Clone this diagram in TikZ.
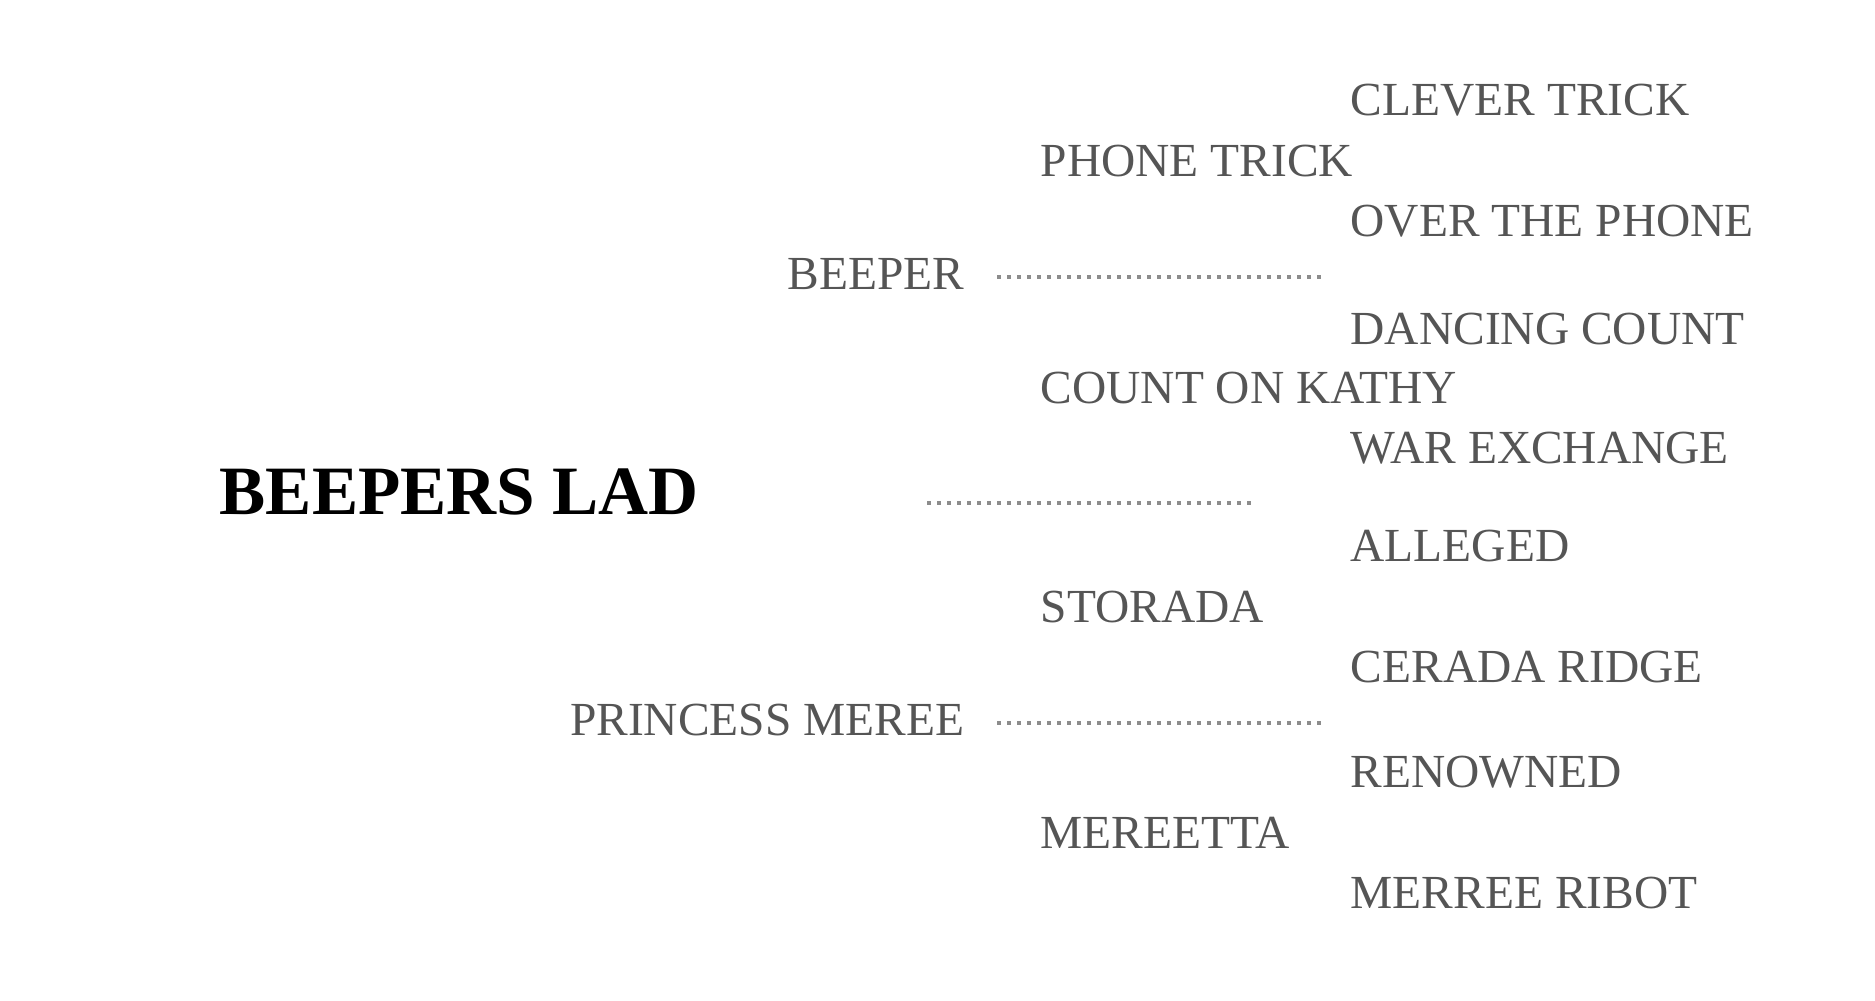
\documentclass[tikz,border=0pt]{standalone}
\usepackage{fontspec}
\setmainfont{Liberation Serif}
\definecolor{txt}{HTML}{555555}
\definecolor{dotc}{HTML}{8C8C8C}
\begin{document}
\begin{tikzpicture}[x=0.1mm,y=-0.1mm,
  lab/.style={inner sep=0pt, text=txt, font=\fontsize{13.5pt}{16pt}\selectfont},
  rootlab/.style={inner sep=0pt, text=black, font=\fontsize{19.7pt}{23pt}\selectfont\bfseries},
  dotline/.style={draw=dotc, line width=0.4mm, dash pattern=on 0.4mm off 0.6mm}]
\useasboundingbox (0,0) rectangle (1875,1000);
% root
\node[rootlab, anchor=base west] (root) at (219,514) {BEEPERS LAD};
% parents
\node[lab, anchor=base east] (sire) at (965,289) {BEEPER};
\node[lab, anchor=base east] (dam) at (965,735) {PRINCESS MEREE};
% grandparents
\node[lab, anchor=base west] (ss) at (1040,176) {PHONE TRICK};
\node[lab, anchor=base west] (sd) at (1040,403) {COUNT ON KATHY};
\node[lab, anchor=base west] (ds) at (1040,622) {STORADA};
\node[lab, anchor=base west] (dd) at (1040,848) {MEREETTA};
% great-grandparents
\node[lab, anchor=base west] (sss) at (1350,115) {CLEVER TRICK};
\node[lab, anchor=base west] (ssd) at (1350,236) {OVER THE PHONE};
\node[lab, anchor=base west] (sds) at (1350,344) {DANCING COUNT};
\node[lab, anchor=base west] (sdd) at (1350,463) {WAR EXCHANGE};
\node[lab, anchor=base west] (dss) at (1350,561) {ALLEGED};
\node[lab, anchor=base west] (dsd) at (1350,682) {CERADA RIDGE};
\node[lab, anchor=base west] (dds) at (1350,787) {RENOWNED};
\node[lab, anchor=base west] (ddd) at (1350,908) {MERREE RIBOT};
% dotted connectors
\coordinate (c1s) at (997,277);
\coordinate (c1e) at (1321,277);
\coordinate (c2s) at (927,503);
\coordinate (c2e) at (1251,503);
\coordinate (c3s) at (997,723);
\coordinate (c3e) at (1321,723);
\draw[dotline] (c1s) -- (c1e);
\draw[dotline] (c2s) -- (c2e);
\draw[dotline] (c3s) -- (c3e);
\end{tikzpicture}
\end{document}
